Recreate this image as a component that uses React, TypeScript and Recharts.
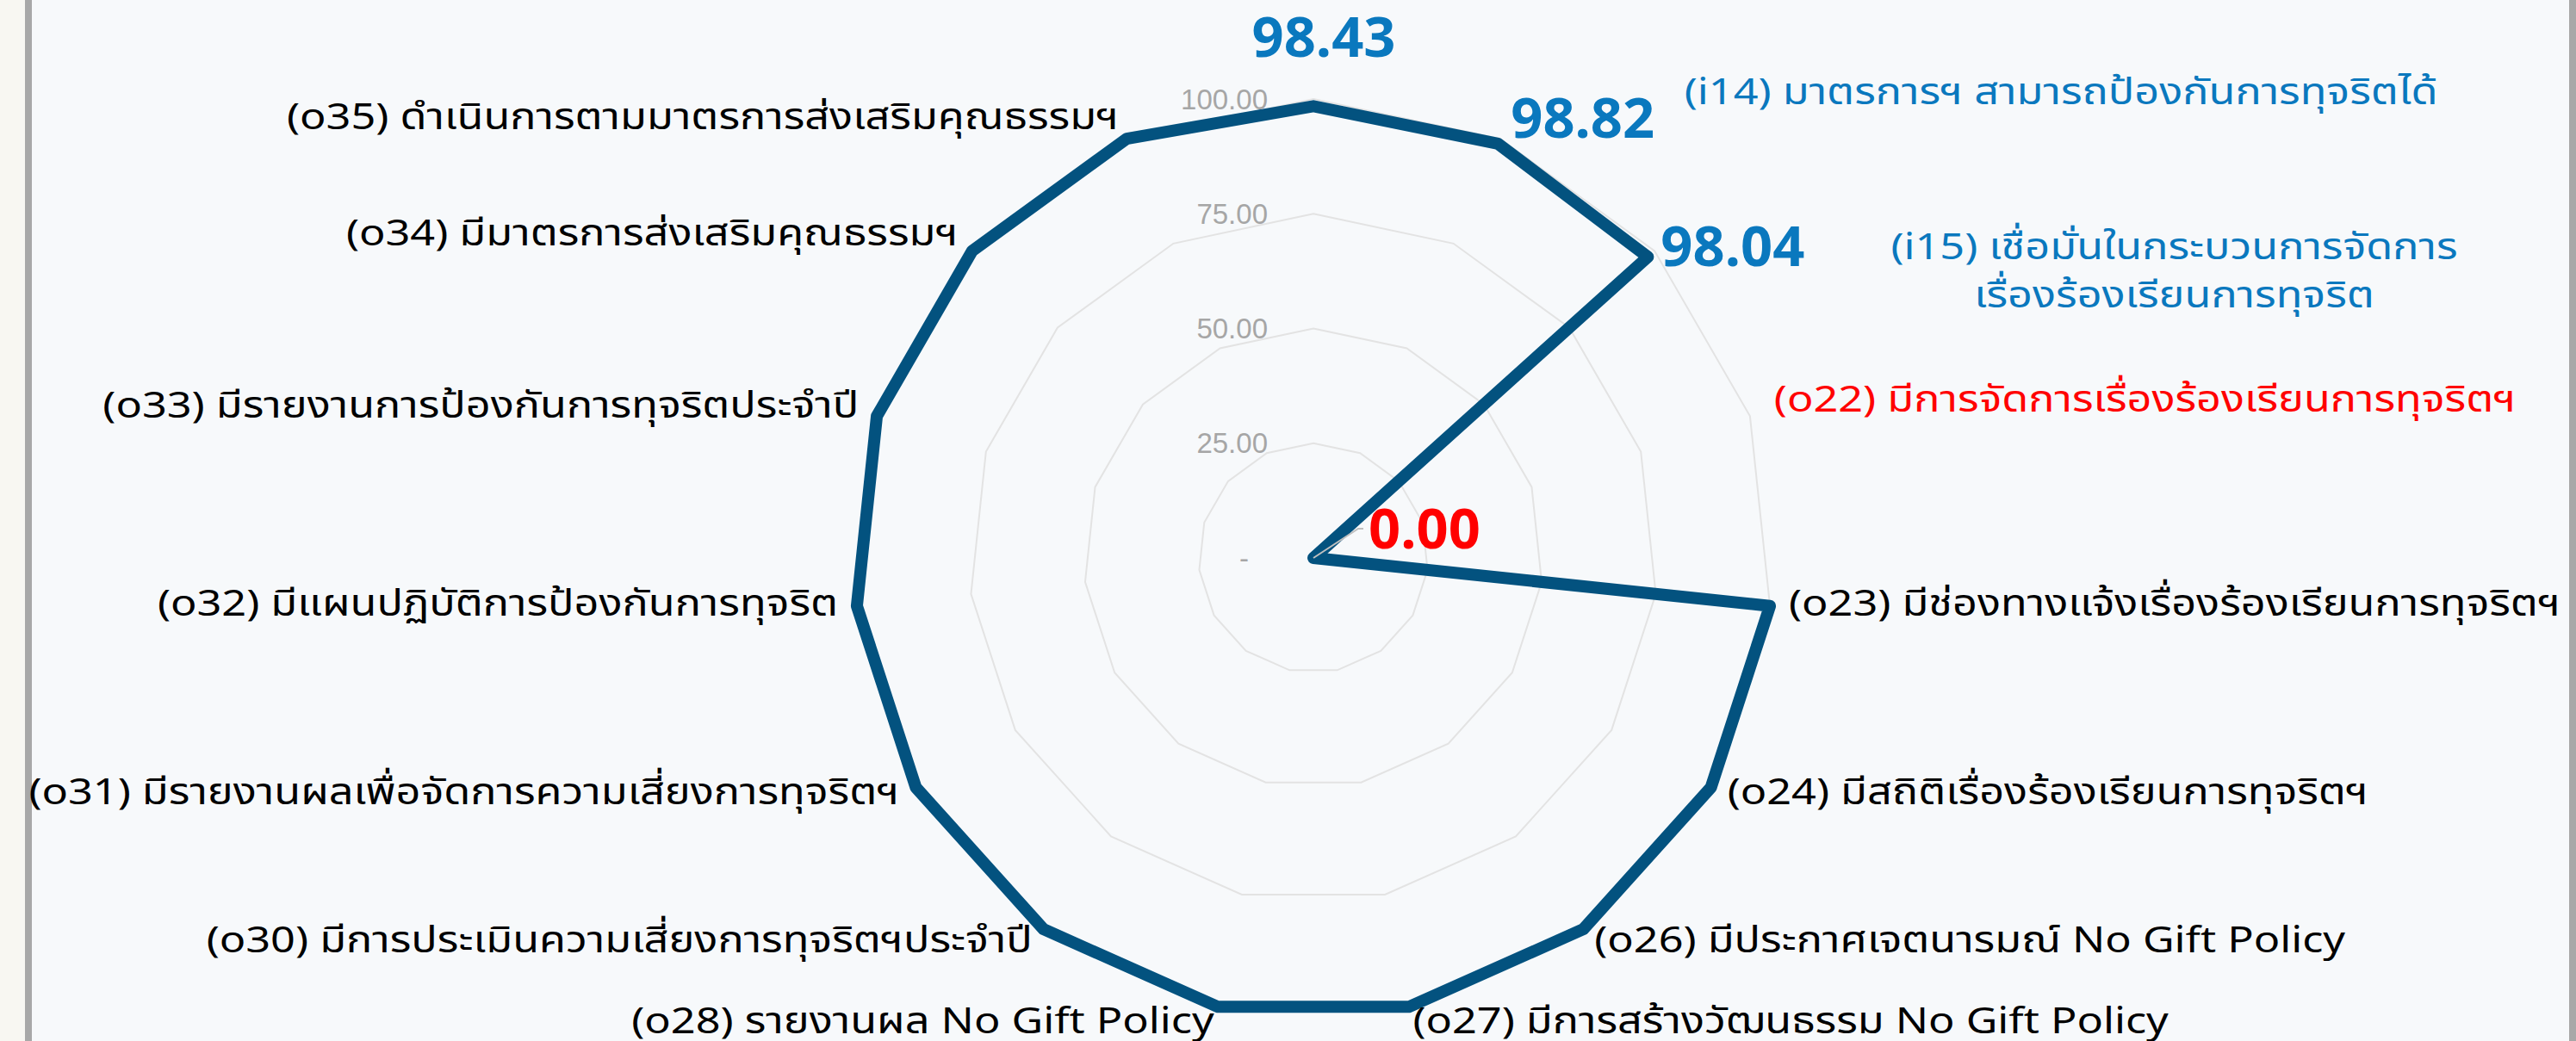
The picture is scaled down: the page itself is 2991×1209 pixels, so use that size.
import { RadarChart, Radar, PolarGrid, PolarAngleAxis, PolarRadiusAxis } from 'recharts';

const categories = [
  '(i13)',
  '(i14) มาตรการฯ สามารถป้องกันการทุจริตได้',
  '(i15) เชื่อมั่นในกระบวนการจัดการ\nเรื่องร้องเรียนการทุจริต',
  '(o22) มีการจัดการเรื่องร้องเรียนการทุจริตฯ',
  '(o23) มีช่องทางแจ้งเรื่องร้องเรียนการทุจริตฯ',
  '(o24) มีสถิติเรื่องร้องเรียนการทุจริตฯ',
  '(o26) มีประกาศเจตนารมณ์ No Gift Policy',
  '(o27) มีการสร้างวัฒนธรรม No Gift Policy',
  '(o28) รายงานผล No Gift Policy',
  '(o30) มีการประเมินความเสี่ยงการทุจริตฯประจำปี',
  '(o31) มีรายงานผลเพื่อจัดการความเสี่ยงการทุจริตฯ',
  '(o32) มีแผนปฏิบัติการป้องกันการทุจริต',
  '(o33) มีรายงานการป้องกันการทุจริตประจำปี',
  '(o34) มีมาตรการส่งเสริมคุณธรรมฯ',
  '(o35) ดำเนินการตามมาตรการส่งเสริมคุณธรรมฯ',
];

const scores = [98.43, 98.82, 98.04, 0, 100, 100, 100, 100, 100, 100, 100, 100, 100, 100, 100];

const radiusTicks = [0, 25, 50, 75, 100];

// which points get a value label
const labelledPoints = [0, 1, 2, 3];

const data = categories.map((name, i) => ({ name, score: scores[i] }));

const BLUE = '#0a78be';
const RED = '#ff0000';
const LINE = '#03527f';
const THAI_FONT = '"Noto Sans Thai", "Noto Sans", sans-serif';
const WIDEN = 1.2; // the source font is much wider than Noto Sans Thai

const labelColor = (i: number) => (i === 1 || i === 2 ? BLUE : i === 3 ? RED : '#000000');

// manual nudges for the callout-style labels on the right
const labelNudge: Record<number, { dx: number; dy: number; anchor?: string }> = {
  1: { dx: 205, dy: -35 },
  2: { dx: 587, dy: 10, anchor: 'middle' },
  3: { dx: 7, dy: -13 },
};

const AngleTick = (props: any) => {
  const { x, y, payload, index, textAnchor } = props;
  if (index === 0) return <g />;
  const nudge = labelNudge[index] || { dx: 0, dy: -6 };
  const lines = String(payload.value).split('\n');
  return (
    <text
      transform={`translate(${x + nudge.dx},${y + nudge.dy}) scale(${WIDEN},1)`}
      x={0}
      y={0}
      textAnchor={nudge.anchor || textAnchor}
      fill={labelColor(index)}
      fontSize={42}
      fontFamily={THAI_FONT}
    >
      {lines.map((ln, k) => (
        <tspan key={k} x={0} dy={k === 0 ? '0.35em' : 56}>
          {ln}
        </tspan>
      ))}
    </text>
  );
};

const RadiusTick = (props: any) => {
  const { x, y, payload } = props;
  const v = payload.value;
  return (
    <text
      x={v === 0 ? x - 75 : x - 53}
      y={y}
      dy="0.35em"
      textAnchor="end"
      fill="#a6a6a6"
      fontSize={33}
      fontFamily='"Liberation Sans", Arial, sans-serif'
    >
      {v === 0 ? '-' : v.toFixed(2)}
    </text>
  );
};

const ValueDot = (props: any) => {
  const { cx, cy, index, value } = props;
  if (!labelledPoints.includes(index)) return <g key={`d${index}`} />;
  const v = Array.isArray(value) ? value[1] : value;
  const txt = Number(v).toFixed(2);
  const style = { fontSize: 65, fontWeight: 700, fontFamily: '"Noto Sans", sans-serif' };
  if (index === 0) {
    return (
      <text key={`d${index}`} x={cx + 12} y={cy - 80} dy="0.35em" textAnchor="middle" fill={BLUE} {...style}>
        {txt}
      </text>
    );
  }
  if (index === 3) {
    return (
      <g key={`d${index}`}>
        <polyline points={`${cx},${cy} ${cx + 52},${cy - 34} ${cx + 58},${cy - 34}`} fill="none" stroke="#bfbfbf" strokeWidth={2} />
        <text x={cx + 64} y={cy - 34} dy="0.35em" textAnchor="start" fill={RED} {...style}>
          {txt}
        </text>
      </g>
    );
  }
  const dy = index === 1 ? -30 : -12;
  return (
    <text key={`d${index}`} x={cx + 15} y={cy + dy} dy="0.35em" textAnchor="start" fill={BLUE} {...style}>
      {txt}
    </text>
  );
};

export default function App() {
  return (
    <div style={{ position: 'absolute', left: 0, top: 0, width: 2991, height: 1209, background: '#f8f7f2', overflow: 'hidden' }}>
      <div
        style={{
          position: 'absolute',
          left: 29,
          top: 0,
          width: 2991 - 29 - 8 - 8,
          height: 1209,
          background: '#f7f9fb',
          borderLeft: '8px solid #a8a8a8',
          borderRight: '8px solid #a8a8a8',
        }}
      />
      <div style={{ position: 'absolute', left: 0, top: 0 }}>
        <RadarChart width={2991} height={1209} data={data} cx={1525} cy={648} outerRadius={533} margin={{ top: 0, right: 0, bottom: 0, left: 0 }}>
          <PolarGrid gridType="polygon" radialLines={false} stroke="#e3e3e3" strokeWidth={2} />
          <PolarAngleAxis dataKey="name" tick={AngleTick} tickLine={false} axisLine={false} tickSize={22} />
          <PolarRadiusAxis angle={90} domain={[0, 100]} ticks={radiusTicks} tick={RadiusTick} axisLine={false} tickLine={false} />
          <Radar
            dataKey="score"
            stroke={LINE}
            strokeWidth={14}
            strokeLinejoin="round"
            fill="none"
            fillOpacity={0}
            dot={ValueDot}
            isAnimationActive={false}
          />
        </RadarChart>
      </div>
    </div>
  );
}
